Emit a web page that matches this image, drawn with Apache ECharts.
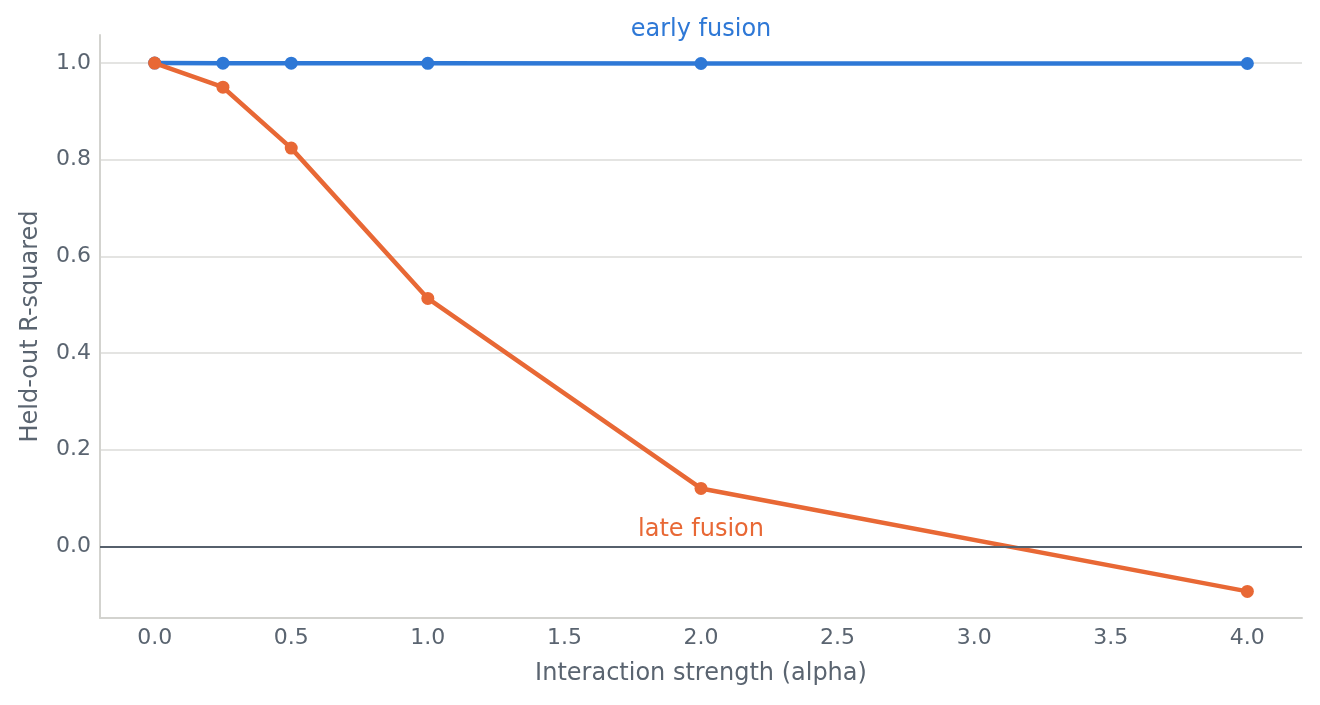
<!DOCTYPE html>
<html><head><meta charset="utf-8">
<script src="https://cdn.jsdelivr.net/npm/echarts@6/dist/echarts.min.js"></script>
<style>html,body{margin:0;padding:0;background:#fff}#c{width:1320px;height:705px}</style>
</head><body><div id="c"></div>
<script>
const alphas = [0.0, 0.25, 0.5, 1.0, 2.0, 4.0];
const earlyFusion = [1.0, 0.9998, 0.9997, 0.9995, 0.999, 0.999];
const lateFusion = [1.0, 0.950, 0.824, 0.513, 0.120, -0.093];
const seriesNames = ['early fusion', 'late fusion'];
const xTicks = [0, 0.5, 1, 1.5, 2, 2.5, 3, 3.5, 4];
const yTicks = [0, 0.2, 0.4, 0.6, 0.8, 1.0];
const labelIndex = 4;

const textColor = '#5a6470';
const font = 'DejaVu Sans';
const blue = '#2e78d6', orange = '#e86835';
function pts(vals, name, pos, dist, color) {
  return alphas.map((a, i) => {
    const d = { value: [a, vals[i]] };
    if (i === labelIndex) d.label = { show: true, formatter: name, position: pos, distance: dist, fontSize: 24, fontFamily: font, color: color };
    return d;
  });
}
const chart = echarts.init(document.getElementById('c'));
chart.setOption({
  animation: false,
  grid: { left: 100, right: 18, top: 35, bottom: 87, containLabel: false },
  xAxis: {
    type: 'value', min: -0.2, max: 4.2,
    name: 'Interaction strength (alpha)', nameLocation: 'middle', nameGap: 44,
    nameTextStyle: { color: textColor, fontSize: 24, fontFamily: font },
    axisLine: { show: true, onZero: false, lineStyle: { color: '#d3d3cf', width: 2 } },
    axisTick: { show: false, customValues: xTicks },
    splitLine: { show: false },
    axisLabel: { color: textColor, fontSize: 22, fontFamily: font, margin: 9,
      customValues: xTicks,
      formatter: v => v.toFixed(1) }
  },
  yAxis: {
    type: 'value', min: -0.148, max: 1.058,
    name: 'Held-out R-squared', nameLocation: 'middle', nameGap: 57,
    nameTextStyle: { color: textColor, fontSize: 24, fontFamily: font },
    axisLine: { show: true, onZero: false, lineStyle: { color: '#d3d3cf', width: 2 } },
    axisTick: { show: false, customValues: yTicks },
    splitLine: { show: true, lineStyle: { color: '#e4e4e2', width: 2 } },
    axisLabel: { color: textColor, fontSize: 22, fontFamily: font, margin: 9,
      customValues: yTicks,
      formatter: v => v.toFixed(1) }
  },
  series: [
    {
      name: seriesNames[0], type: 'line', data: pts(earlyFusion, seriesNames[0], 'top', 15, blue),
      symbol: 'circle', symbolSize: 13, z: 3,
      itemStyle: { color: blue }, lineStyle: { width: 4.5, color: blue },
      markLine: { silent: true, symbol: 'none', label: { show: false },
        lineStyle: { color: '#56606c', width: 2, type: 'solid' }, data: [{ yAxis: 0 }] }
    },
    {
      name: seriesNames[1], type: 'line', data: pts(lateFusion, seriesNames[1], 'bottom', 23, orange),
      symbol: 'circle', symbolSize: 13, z: 4,
      itemStyle: { color: orange }, lineStyle: { width: 4.5, color: orange }
    }
  ]
});
</script></body></html>
